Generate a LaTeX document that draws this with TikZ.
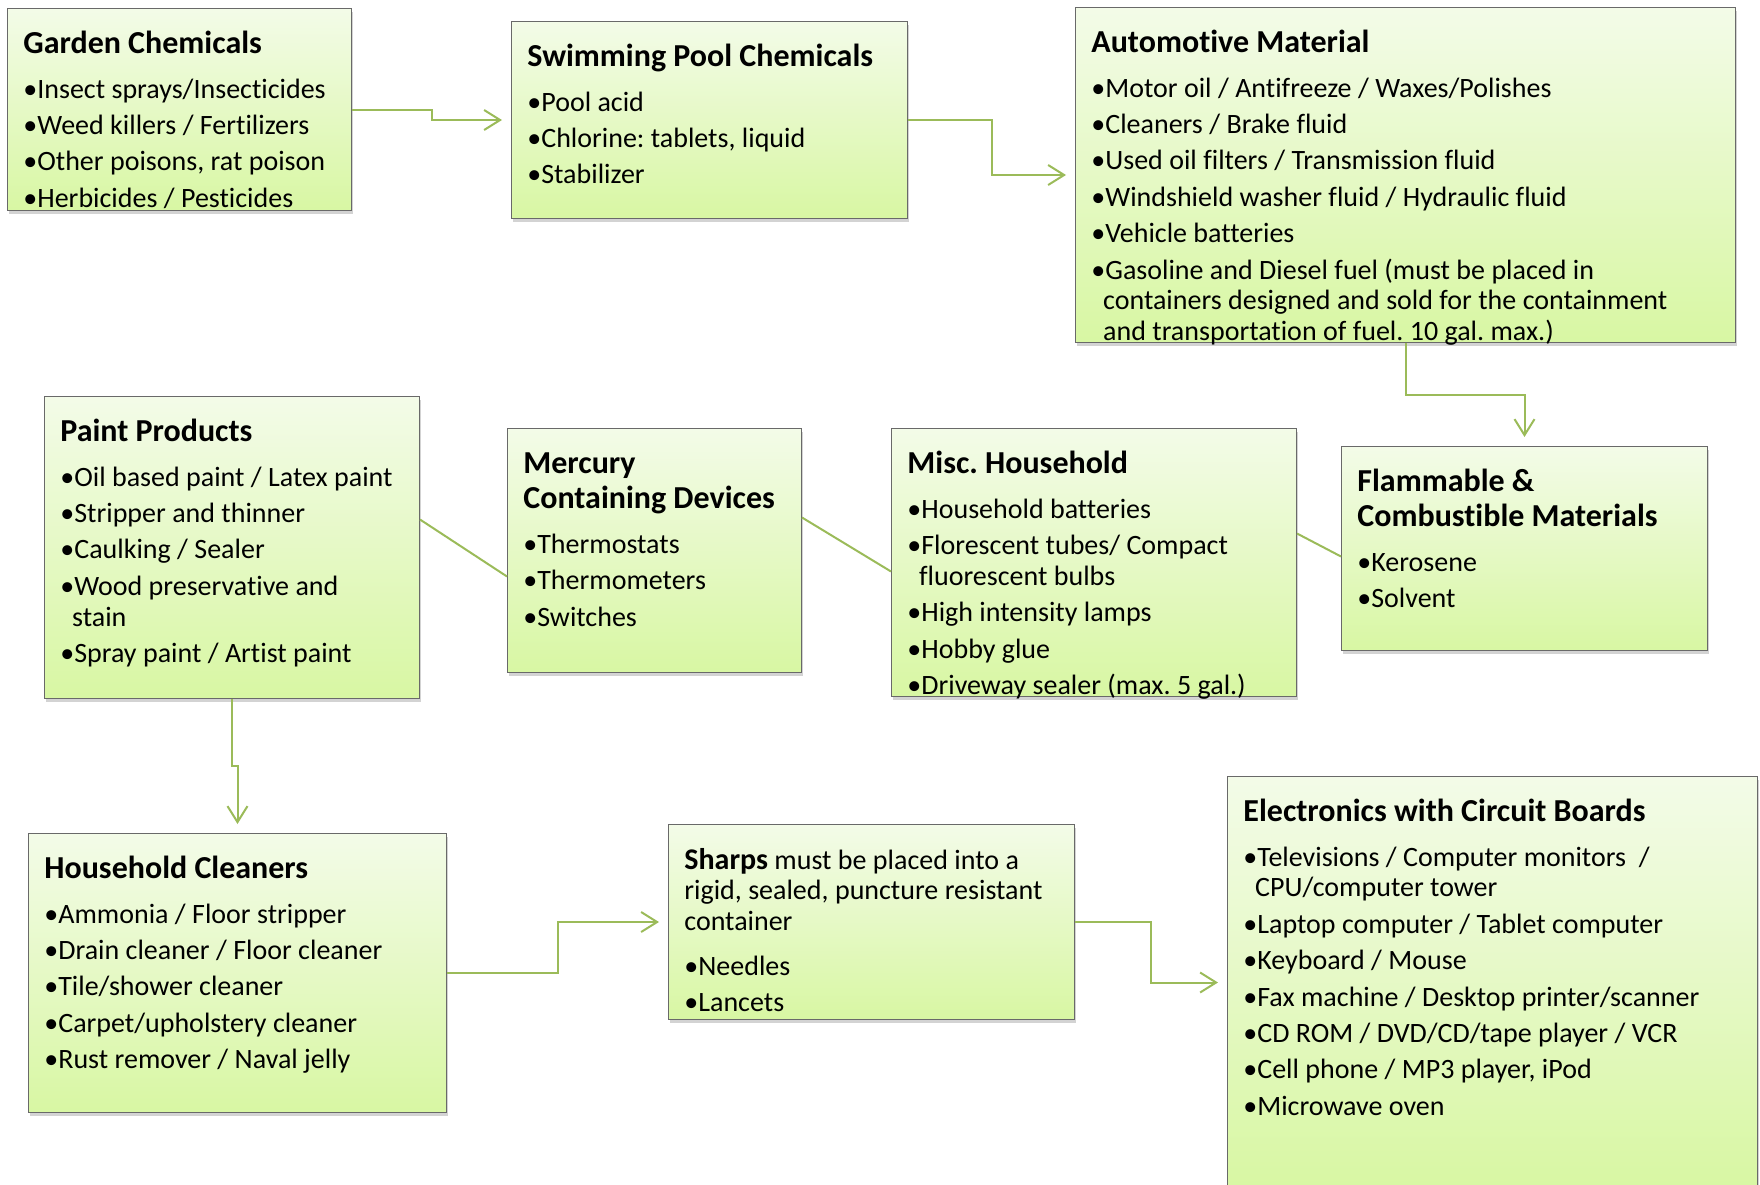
\documentclass[tikz,border=0pt]{standalone}
\usepackage{fontspec}
\setmainfont{Carlito}[Ligatures=NoCommon]
\frenchspacing
\usetikzlibrary{positioning,shadows,arrows.meta,calc}

\definecolor{boxtop}{RGB}{243,251,232}
\definecolor{boxbot}{RGB}{216,247,163}
\definecolor{boxline}{RGB}{105,105,105}
\definecolor{conngreen}{RGB}{155,187,89}

\tikzset{
  catbox/.style={rectangle, draw=boxline, line width=0.5pt, anchor=north west,
    top color=boxtop, bottom color=boxbot, inner sep=0pt,
    drop shadow={shadow xshift=0.5pt, shadow yshift=-1.6pt, opacity=0.35}},
  boxtext/.style={anchor=base west, inner sep=0pt, align=left, text width=#1,
    font=\fontsize{14}{15.4}\selectfont,
    execute at begin node={\spaceskip=3.2pt plus 1pt minus 0.5pt\relax}},
  conn/.style={draw=conngreen, line width=1pt},
  flow/.style={conn, -{Straight Barb[length=8pt,width=10pt]}, shorten >=4.5pt},
}
% box title and bullet item
\newcommand\hd[1]{{\fontsize{16}{17.6}\selectfont\bfseries\spaceskip=3.6pt\relax #1\par}\vspace{4.3pt}}
\newcommand\itm[1]{\par\vspace{2.8pt}\hangindent=0.42em\hangafter=1\noindent\textbullet#1}

\begin{document}
\begin{tikzpicture}[x=0.5pt,y=0.5pt]
\useasboundingbox (0,0) rectangle (1760,-1184);

%% boxes
\node[catbox, minimum width=172pt, minimum height=101pt]   (garden) at (7,-8) {};
\node[catbox, minimum width=198pt, minimum height=98.5pt]  (swim)   at (511,-21) {};
\node[catbox, minimum width=330pt, minimum height=167.5pt] (auto)   at (1075,-7) {};
\node[catbox, minimum width=187.5pt, minimum height=151pt] (paint)  at (44,-396) {};
\node[catbox, minimum width=147pt, minimum height=122pt]   (merc)   at (507,-428) {};
\node[catbox, minimum width=202.5pt, minimum height=134pt] (misc)   at (891,-428) {};
\node[catbox, minimum width=183pt, minimum height=102pt]   (flam)   at (1341,-446) {};
\node[catbox, minimum width=209pt, minimum height=139.5pt] (clean)  at (28,-833) {};
\node[catbox, minimum width=203pt, minimum height=97.5pt]  (sharps) at (668,-824) {};
\node[catbox, minimum width=265pt, minimum height=206pt]   (elec)   at (1227,-776) {};

%% texts
\node[boxtext=160pt] (gardenT) at ([shift={(8pt,-22.5pt)}]garden.north west) {%
  \hd{Garden Chemicals}
  \itm{Insect sprays/Insecticides}
  \itm{Weed killers / Fertilizers}
  \itm{Other poisons, rat poison}
  \itm{Herbicides / Pesticides}\par};
\node[boxtext=185pt] (swimT) at ([shift={(8pt,-22.5pt)}]swim.north west) {%
  \hd{Swimming Pool Chemicals}
  \itm{Pool acid}
  \itm{Chlorine: tablets, liquid}
  \itm{Stabilizer}\par};
\node[boxtext=318pt] (autoT) at ([shift={(8pt,-22.5pt)}]auto.north west) {%
  \hd{Automotive Material}
  \itm{Motor oil / Antifreeze / Waxes/Polishes}
  \itm{Cleaners / Brake fluid}
  \itm{Used oil filters / Transmission fluid}
  \itm{Windshield washer fluid / Hydraulic fluid}
  \itm{Vehicle batteries}
  \itm{Gasoline and Diesel fuel (must be placed in\newline
       containers designed and sold for the containment\newline
       and transportation of fuel. 10 gal. max.)}\par};
\node[boxtext=178pt] (paintT) at ([shift={(8pt,-22.5pt)}]paint.north west) {%
  \hd{Paint Products}
  \itm{Oil based paint / Latex paint}
  \itm{Stripper and thinner}
  \itm{Caulking / Sealer}
  \itm{Wood preservative and\newline stain}
  \itm{Spray paint / Artist paint}\par};
\node[boxtext=140pt] (mercT) at ([shift={(8pt,-22.5pt)}]merc.north west) {%
  \hd{Mercury\newline Containing Devices}
  \itm{Thermostats}
  \itm{Thermometers}
  \itm{Switches}\par};
\node[boxtext=192pt] (miscT) at ([shift={(8pt,-22.5pt)}]misc.north west) {%
  \hd{Misc. Household}
  \itm{Household batteries}
  \itm{Florescent tubes/ Compact\newline fluorescent bulbs}
  \itm{High intensity lamps}
  \itm{Hobby glue}
  \itm{Driveway sealer (max. 5 gal.)}\par};
\node[boxtext=172pt] (flamT) at ([shift={(8pt,-22.5pt)}]flam.north west) {%
  \hd{Flammable \&\newline Combustible Materials}
  \itm{Kerosene}
  \itm{Solvent}\par};
\node[boxtext=198pt] (cleanT) at ([shift={(8pt,-22.5pt)}]clean.north west) {%
  \hd{Household Cleaners}
  \itm{Ammonia / Floor stripper}
  \itm{Drain cleaner / Floor cleaner}
  \itm{Tile/shower cleaner}
  \itm{Carpet/upholstery cleaner}
  \itm{Rust remover / Naval jelly}\par};
\node[boxtext=192pt] (sharpsT) at ([shift={(8pt,-22.5pt)}]sharps.north west) {%
  {\fontsize{15}{15.4}\selectfont\bfseries Sharps} must be placed into a\newline
  rigid, sealed, puncture resistant\newline container\par\vspace{4pt}
  \itm{Needles}
  \itm{Lancets}\par};
\node[boxtext=255pt] (elecT) at ([shift={(8pt,-22.5pt)}]elec.north west) {%
  \hd{Electronics with Circuit Boards}
  \itm{Televisions / Computer monitors~~/\newline CPU/computer tower}
  \itm{Laptop computer / Tablet computer}
  \itm{Keyboard / Mouse}
  \itm{Fax machine / Desktop printer/scanner}
  \itm{CD ROM / DVD/CD/tape player / VCR}
  \itm{Cell phone / MP3 player, iPod}
  \itm{Microwave oven}\par};

%% connectors
\draw[flow] (garden.east) -| ($(garden.east)!.5!(swim.west)$) |- (swim.west);
\draw[flow] (swim.east) -| ($(swim.east)!.5!(auto.west)$) |- (auto.west);
\draw[flow] (auto.south) |- ($(auto.south)!.5!(flam.north)$) -| (flam.north);
\draw[conn] ([yshift=14pt]paint.east) -- ([yshift=-13pt]merc.west);
\draw[conn] ([yshift=16.5pt]merc.east) -- ([yshift=-4.5pt]misc.west);
\draw[conn] ([yshift=14.5pt]misc.east) -- ([yshift=-4pt]flam.west);
\draw[flow] (paint.south) |- ($(paint.south)!.5!(clean.north)$) -| (clean.north);
\draw[flow] (clean.east) -| ($(clean.east)!.5!(sharps.west)$) |- (sharps.west);
\draw[flow] (sharps.east) -| ($(sharps.east)!.5!(elec.west)$) |- (elec.west);
\end{tikzpicture}
\end{document}
